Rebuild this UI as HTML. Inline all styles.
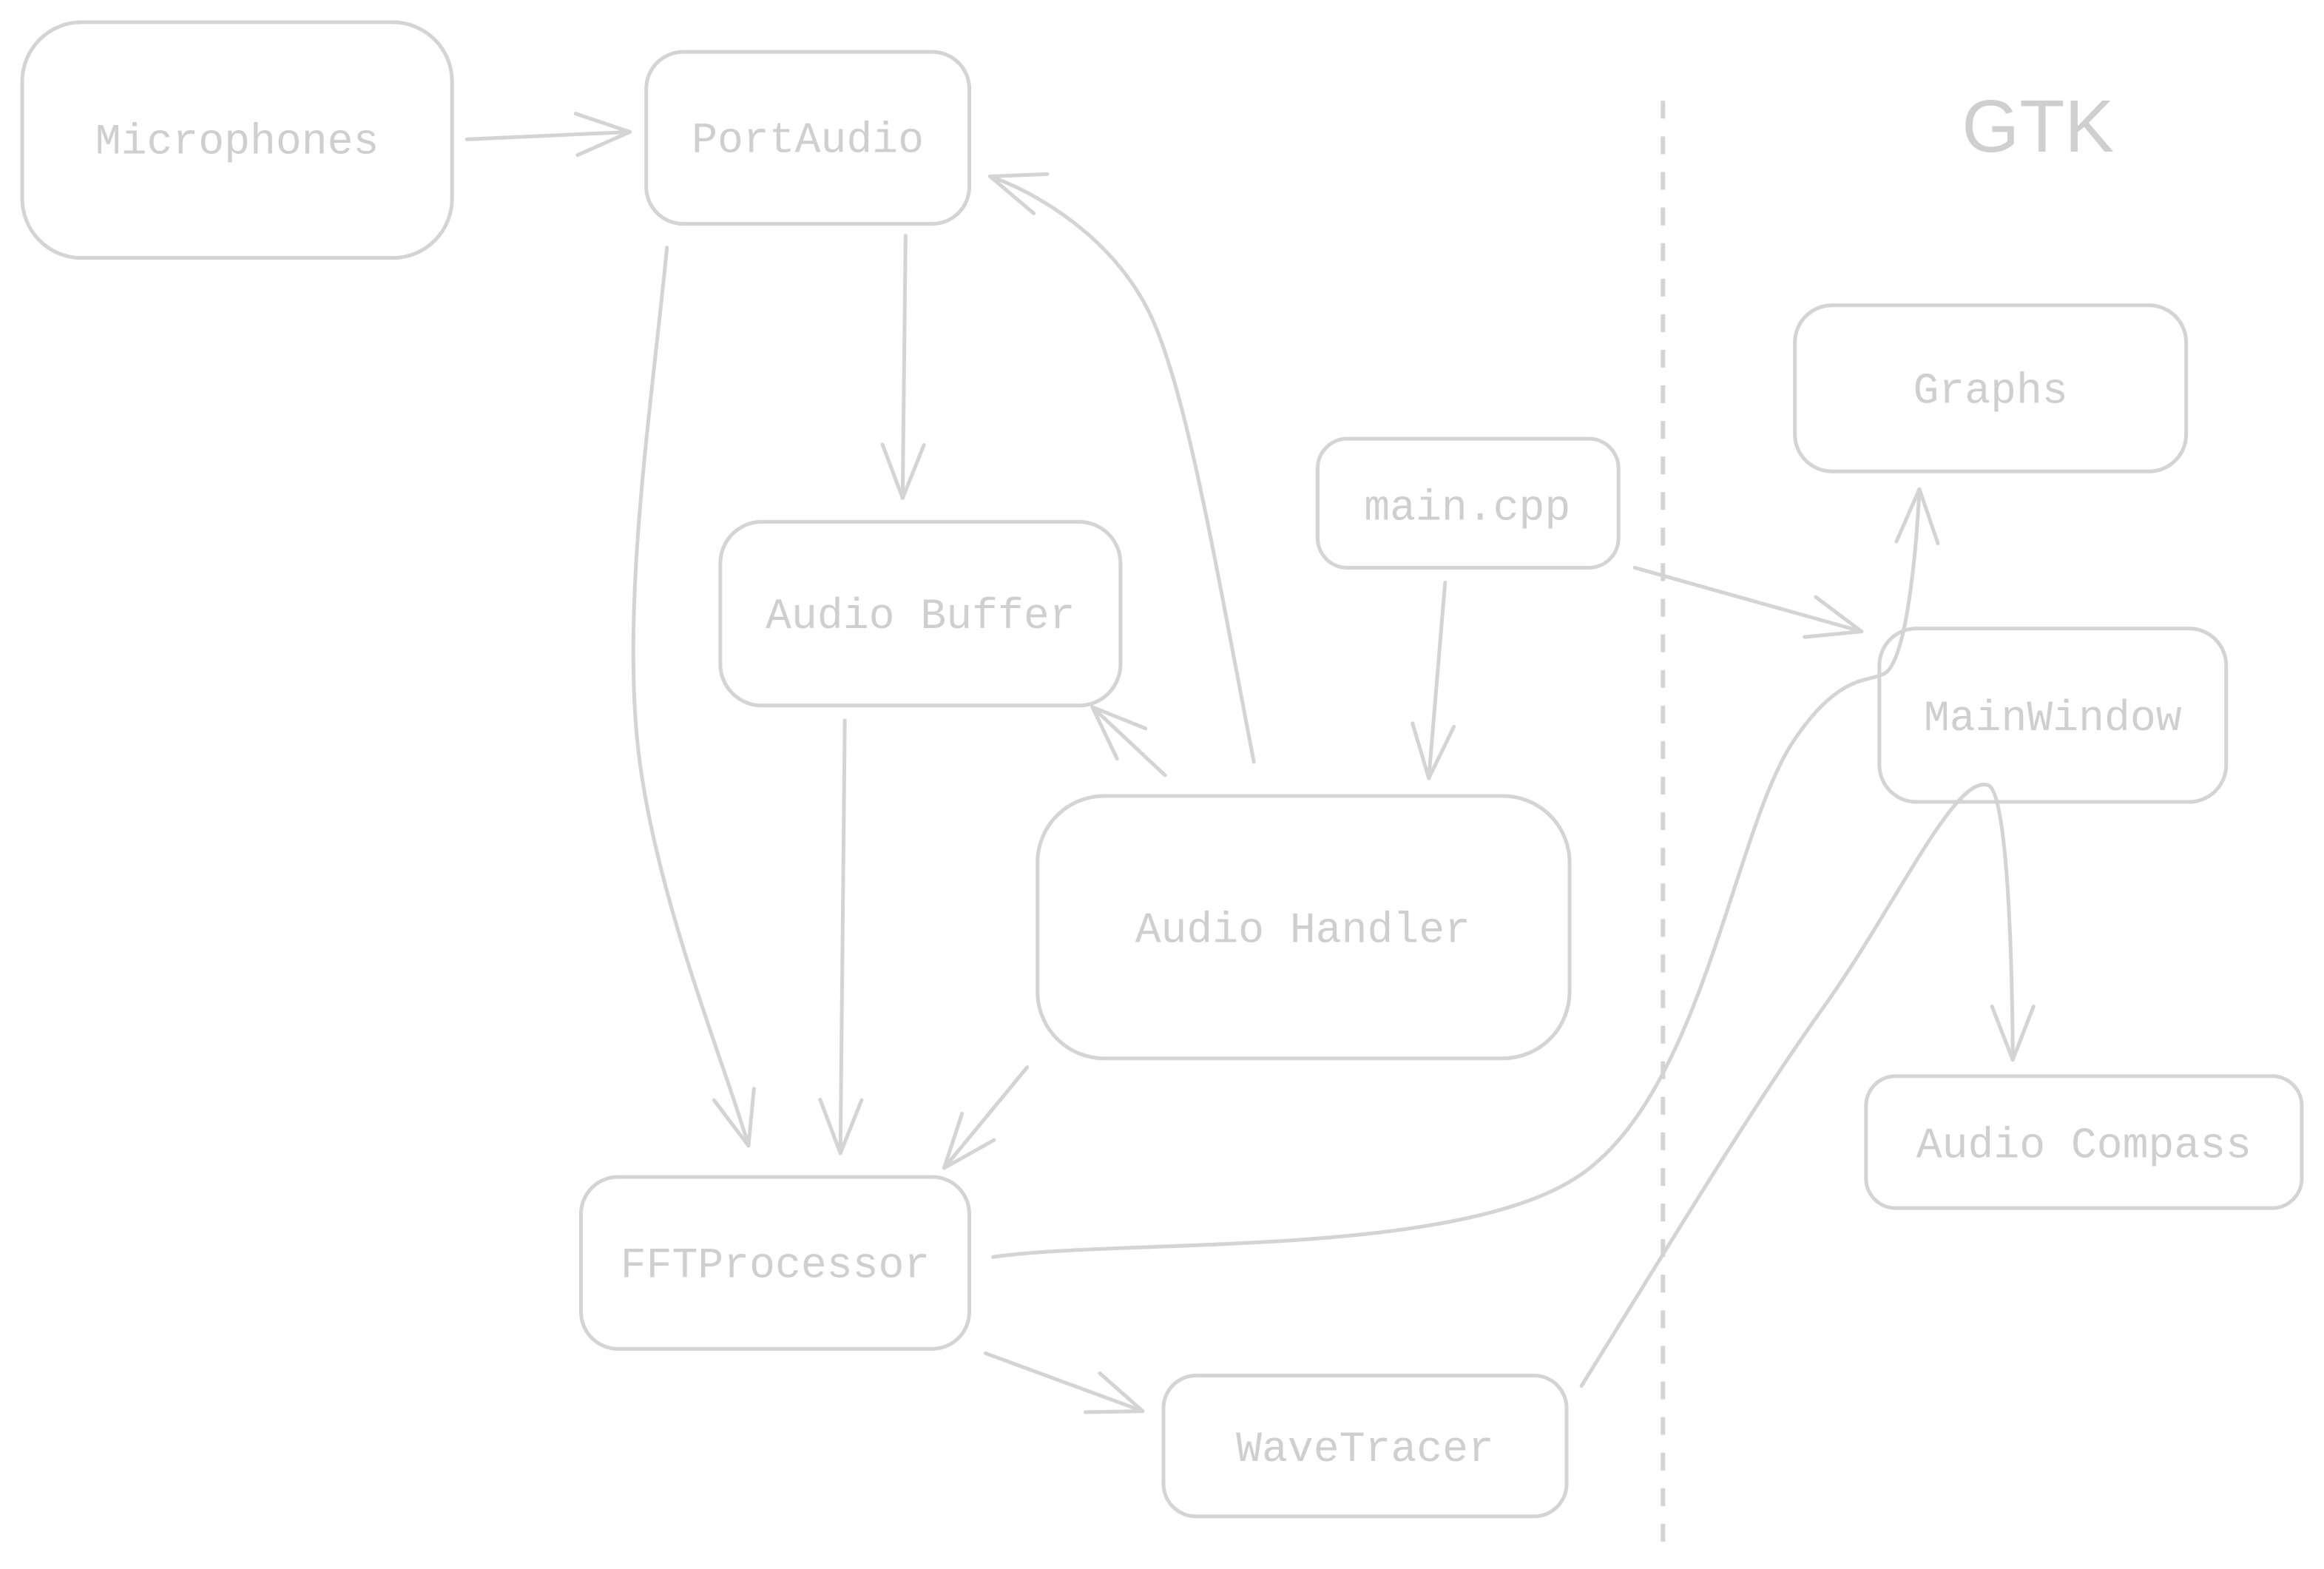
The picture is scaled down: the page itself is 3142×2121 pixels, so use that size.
<!DOCTYPE html>
<html><head><meta charset="utf-8"><style>
html,body{margin:0;padding:0;background:#fff;}
svg{display:block;}
text{font-family:"Liberation Mono","DejaVu Sans Mono",monospace;fill:#cfcfcf;font-size:29px;text-anchor:middle;dominant-baseline:middle;}
</style></head><body>
<svg width="3142" height="2121" viewBox="0 0 1568 1058.5" preserveAspectRatio="none" xmlns="http://www.w3.org/2000/svg">
<defs>
<marker id="a" viewBox="-40 -20 45 40" markerWidth="45" markerHeight="40" refX="0" refY="0" orient="auto" markerUnits="userSpaceOnUse">
<path d="M-36,-14 L0,0 L-36,14" fill="none" stroke="#d4d4d4" stroke-width="2.5" stroke-linecap="round" stroke-linejoin="round"/>
</marker>
</defs>
<g fill="none" stroke="#d4d4d4" stroke-width="2.5">
<rect x="15" y="15" width="290" height="159" rx="40"/>
<rect x="436" y="35" width="218" height="116" rx="25"/>
<rect x="486" y="352" width="270" height="124" rx="28"/>
<rect x="889" y="296" width="203" height="87" rx="20"/>
<rect x="1211" y="206" width="264" height="112" rx="25"/>
<rect x="1268" y="424" width="234" height="117" rx="25"/>
<rect x="700" y="537" width="359" height="177" rx="45"/>
<rect x="1259" y="726" width="294" height="89" rx="20"/>
<rect x="392" y="794" width="262" height="116" rx="25"/>
<rect x="785" y="928" width="272" height="95" rx="22"/>
<line x1="1122" y1="68" x2="1122" y2="1045" stroke-dasharray="12,12" stroke-width="3"/>
<g marker-end="url(#a)" stroke-linecap="round">
<path d="M315,94 L425,89"/>
<path d="M611,159 L609,336"/>
<path d="M450,167 C440,270 420,400 430,500 C440,600 490,720 505,773"/>
<path d="M570,486 L567,778"/>
<path d="M846,514 C820,380 800,260 775,210 C750,160 700,130 668,119"/>
<path d="M786,523 L737,477"/>
<path d="M975,393 L964,525"/>
<path d="M1103,383 L1256,426"/>
<path d="M693,720 L637,788"/>
<path d="M665,913 L771,952"/>
<path d="M670,848 C760,835 990,850 1070,790 C1150,730 1170,560 1210,500 C1240,455 1260,460 1270,455 C1290,450 1295,330 1295,330"/>
<path d="M1067,935 C1120,850 1180,750 1230,680 C1280,610 1320,520 1342,530 C1358,540 1358,715 1358,715"/>
</g>
</g>
<text x="160" y="96">Microphones</text>
<text x="545" y="95">PortAudio</text>
<text x="621" y="416">Audio Buffer</text>
<text x="990" y="343">main.cpp</text>
<text x="1343" y="264">Graphs</text>
<text x="1385" y="485">MainWindow</text>
<text x="879" y="628">Audio Handler</text>
<text x="1406" y="773">Audio Compass</text>
<text x="523" y="854">FFTProcessor</text>
<text x="921" y="978">WaveTracer</text>
<text x="1375" y="89" style="font-size:50px;font-family:'Liberation Sans','DejaVu Sans',sans-serif">GTK</text>
</svg>
</body></html>
